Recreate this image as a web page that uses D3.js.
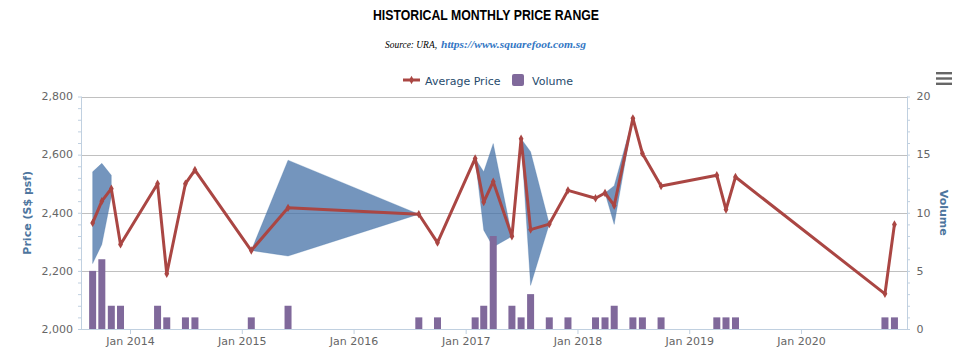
<!DOCTYPE html>
<html>
<head>
<meta charset="utf-8">
<script src="https://cdn.jsdelivr.net/npm/d3@7"></script>
<style>
  body { margin: 0; background: #fff; }
  svg { display: block; font-family: "DejaVu Sans", Verdana, sans-serif; }
</style>
</head>
<body>
<div id="chart"></div>
<script>
// monthly data (only months with transactions)
const months = ["2013-09","2013-10","2013-11","2013-12","2014-04","2014-05","2014-07","2014-08",
  "2015-02","2015-06","2016-08","2016-10","2017-02","2017-03","2017-04","2017-06","2017-07",
  "2017-08","2017-10","2017-12","2018-03","2018-04","2018-05","2018-07","2018-08","2018-10",
  "2019-04","2019-05","2019-06","2020-10","2020-11"];
const avgPrice = [2365,2440,2483,2291,2500,2190,2500,2547,
  2270,2417,2395,2297,2587,2437,2507,2319,2655,
  2342,2361,2477,2450,2468,2425,2725,2604,2492,
  2529,2411,2523,2121,2360];
const lowPrice = [2225,2291,2455,null,null,null,null,null,
  2270,2251,2395,null,2587,2340,2282,2319,2655,
  2150,2361,null,null,2468,2360,2725,null,null,
  null,null,null,null,null];
const highPrice = [2541,2570,2529,null,null,null,null,null,
  2270,2581,2395,null,2587,2541,2638,2319,2655,
  2610,2361,null,null,2468,2493,2725,null,null,
  null,null,null,null,null];
const volume = [5,6,2,2,2,1,1,1,
  1,2,1,1,1,2,8,2,1,
  3,1,1,1,1,2,1,1,1,
  1,1,1,1,1];
const yearTicks = ["2014","2015","2016","2017","2018","2019","2020"];

const W = 972, H = 362;
const plot = {left: 81, right: 907, top: 96.5, bottom: 329};

const parseMonth = d3.utcParse("%Y-%m");
const data = months.map((m, i) => ({
  date: parseMonth(m), avg: avgPrice[i], low: lowPrice[i], high: highPrice[i], vol: volume[i]
}));

const svg = d3.select("#chart").append("svg")
  .attr("width", W).attr("height", H);

const x = d3.scaleUtc()
  .domain([Date.UTC(2013, 6, 25), Date.UTC(2020, 11, 12)])
  .range([plot.left, plot.right]);
const yPrice = d3.scaleLinear().domain([2000, 2800]).range([plot.bottom, plot.top]);
const yVol = d3.scaleLinear().domain([0, 20]).range([plot.bottom, plot.top]);

// title + subtitle
svg.append("text")
  .attr("x", 486).attr("y", 20)
  .attr("text-anchor", "middle")
  .attr("font-family", "'Liberation Sans Narrow', 'Arial Narrow', 'Liberation Sans', Arial, sans-serif")
  .attr("font-weight", "bold").attr("font-size", 14)
  .attr("textLength", 226).attr("lengthAdjust", "spacingAndGlyphs")
  .attr("fill", "#000")
  .text("HISTORICAL MONTHLY PRICE RANGE");

svg.append("text")
  .attr("x", 385).attr("y", 48)
  .attr("font-family", "'Liberation Serif', 'Times New Roman', serif")
  .attr("font-style", "italic").attr("font-size", 10)
  .attr("textLength", 52).attr("lengthAdjust", "spacingAndGlyphs")
  .attr("fill", "#000")
  .text("Source: URA,");
svg.append("text")
  .attr("x", 441).attr("y", 48)
  .attr("font-family", "'Liberation Serif', 'Times New Roman', serif")
  .attr("font-style", "italic").attr("font-weight", "bold").attr("font-size", 11)
  .attr("textLength", 145).attr("lengthAdjust", "spacingAndGlyphs")
  .attr("fill", "#3477c4")
  .text("https://www.squarefoot.com.sg");

// legend
const legend = svg.append("g").attr("font-size", 11).attr("fill", "#274b6d");
legend.append("line")
  .attr("x1", 403).attr("x2", 420).attr("y1", 80).attr("y2", 80)
  .attr("stroke", "#AA4643").attr("stroke-width", 3);
legend.append("path")
  .attr("transform", "translate(411.5,80)")
  .attr("d", d3.symbol(d3.symbolDiamond, 20)())
  .attr("fill", "#AA4643");
legend.append("text").attr("x", 425).attr("y", 84.5).text("Average Price");
legend.append("rect")
  .attr("x", 512).attr("y", 74).attr("width", 12).attr("height", 12).attr("rx", 2)
  .attr("fill", "#80699B");
legend.append("text").attr("x", 532).attr("y", 84.5).text("Volume");

// export menu icon
svg.append("g").selectAll("rect")
  .data([72, 77.3, 82.6])
  .join("rect")
    .attr("x", 936).attr("y", d => d).attr("width", 16).attr("height", 2.4)
    .attr("fill", "#666");

// gridlines
svg.append("g")
  .selectAll("line")
  .data(d3.range(2200, 2801, 200))
  .join("line")
    .attr("x1", plot.left).attr("x2", plot.right)
    .attr("y1", d => Math.round(yPrice(d)) + 0.5).attr("y2", d => Math.round(yPrice(d)) + 0.5)
    .attr("stroke", "#C0C0C0");

// left axis
const leftAxis = svg.append("g").attr("transform", `translate(${plot.left},0)`);
leftAxis.call(d3.axisLeft(yPrice).tickValues(d3.range(2000, 2801, 40)).tickSize(3).tickFormat(""));
leftAxis.selectAll("path, line").attr("stroke", "#C0D0E0");
leftAxis.call(g => g.select(".domain").remove());
leftAxis.append("line").attr("x1", 0.5).attr("x2", 0.5)
  .attr("y1", plot.top).attr("y2", plot.bottom).attr("stroke", "#C0D0E0");
svg.append("g")
  .attr("font-size", 11).attr("fill", "#666").attr("text-anchor", "end")
  .selectAll("text")
  .data(d3.range(2000, 2801, 200))
  .join("text")
    .attr("x", 73).attr("y", d => yPrice(d)).attr("dy", "0.35em")
    .text(d3.format(","));

// right axis
const rightAxis = svg.append("g").attr("transform", `translate(${plot.right},0)`);
rightAxis.call(d3.axisRight(yVol).tickValues(d3.range(0, 21, 1)).tickSize(3).tickFormat(""));
rightAxis.selectAll("path, line").attr("stroke", "#C0D0E0");
rightAxis.call(g => g.select(".domain").remove());
rightAxis.append("line").attr("x1", 0.5).attr("x2", 0.5)
  .attr("y1", plot.top).attr("y2", plot.bottom).attr("stroke", "#C0D0E0");
svg.append("g")
  .attr("font-size", 11).attr("fill", "#666")
  .selectAll("text")
  .data(d3.range(0, 21, 5))
  .join("text")
    .attr("x", 916.5).attr("y", d => yVol(d)).attr("dy", "0.35em")
    .text(d => d);

// axis titles
svg.append("text")
  .attr("transform", `translate(31,${(plot.top + plot.bottom) / 2}) rotate(-90)`)
  .attr("text-anchor", "middle").attr("font-size", 11).attr("font-weight", "bold")
  .attr("fill", "#4d759e")
  .text("Price (S$ psf)");
svg.append("text")
  .attr("transform", `translate(940,${(plot.top + plot.bottom) / 2}) rotate(90)`)
  .attr("text-anchor", "middle").attr("font-size", 11).attr("font-weight", "bold")
  .attr("fill", "#4d759e")
  .text("Volume");

// x axis
const yearDates = yearTicks.map(y => d3.utcParse("%Y")(y));
const xAxis = svg.append("g").attr("transform", `translate(0,${plot.bottom})`);
xAxis.call(d3.axisBottom(x).tickValues(yearDates).tickSize(5).tickFormat(d3.utcFormat("Jan %Y")));
xAxis.select(".domain").attr("stroke", "#C0D0E0").attr("d", `M${plot.left},0.5H${plot.right}`);
xAxis.selectAll(".tick line").attr("stroke", "#C0D0E0");
xAxis.selectAll(".tick text").attr("fill", "#666").attr("font-size", 11)
  .attr("font-family", "'DejaVu Sans', Verdana, sans-serif").attr("y", 8);

// price range area
const area = d3.area()
  .defined(d => d.low != null)
  .x(d => x(d.date))
  .y0(d => yPrice(d.low))
  .y1(d => yPrice(d.high));
svg.append("path")
  .datum(data)
  .attr("d", area)
  .attr("fill", "#4572A7").attr("fill-opacity", 0.75)
  .attr("stroke", "#4572A7").attr("stroke-opacity", 0.5).attr("stroke-width", 0.5);

// volume columns
const barW = 7;
svg.append("g")
  .selectAll("rect")
  .data(data)
  .join("rect")
    .attr("x", d => x(d.date) - barW / 2)
    .attr("y", d => yVol(d.vol))
    .attr("width", barW)
    .attr("height", d => yVol(0) - yVol(d.vol))
    .attr("fill", "#80699B");

// average price line
const line = d3.line().x(d => x(d.date)).y(d => yPrice(d.avg));
svg.append("path")
  .datum(data)
  .attr("d", line)
  .attr("fill", "none")
  .attr("stroke", "#AA4643").attr("stroke-width", 3).attr("stroke-linejoin", "round");

svg.append("g")
  .selectAll("path")
  .data(data)
  .join("path")
    .attr("transform", d => `translate(${x(d.date)},${yPrice(d.avg)})`)
    .attr("d", d3.symbol(d3.symbolDiamond, 20)())
    .attr("fill", "#AA4643");
</script>
</body>
</html>
